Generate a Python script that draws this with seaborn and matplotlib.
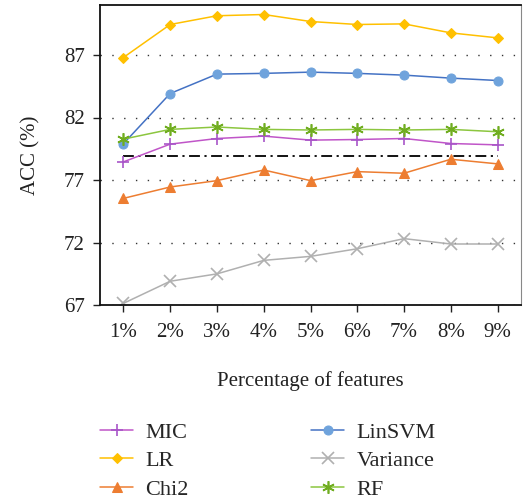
import matplotlib
matplotlib.use("Agg")
import matplotlib.pyplot as plt
import seaborn as sns
import pandas as pd
import numpy as np

sns.set_theme(style="white")
plt.rcParams['font.family'] = ['Liberation Serif', 'DejaVu Serif']

pct = [1, 2, 3, 4, 5, 6, 7, 8, 9]
xlabels = ["1%", "2%", "3%", "4%", "5%", "6%", "7%", "8%", "9%"]
mic = [78.45, 79.87, 80.32, 80.51, 80.19, 80.24, 80.32, 79.92, 79.81]
lr = [86.8, 89.44, 90.14, 90.24, 89.68, 89.44, 89.49, 88.77, 88.37]
chi2 = [75.53, 76.44, 76.95, 77.80, 76.95, 77.67, 77.54, 78.66, 78.29]
linsvm = [79.9, 83.92, 85.47, 85.53, 85.63, 85.53, 85.39, 85.15, 84.96]
variance = [67.13, 68.9, 69.49, 70.57, 70.89, 71.5, 72.31, 71.88, 71.88]
rf = [80.27, 81.05, 81.24, 81.05, 81.0, 81.05, 81.0, 81.05, 80.86]
baseline = 78.9
yticks = [67, 72, 77, 82, 87]

series = [
    ("MIC", mic, dict(color="#C055C8", marker="+", markersize=8, mew=1.2, mfc="#C055C8", mec="#A855C8")),
    ("LR", lr, dict(color="#FFC000", marker="D", markersize=5, mfc="#FFC000", mec="#FFC000")),
    ("Chi2", chi2, dict(color="#ED7D31", marker="^", markersize=6.5, mfc="#ED7D31", mec="#ED7D31")),
    ("LinSVM", linsvm, dict(color="#4472C4", marker="o", markersize=6.5, mfc="#6FA3DC", mec="#6FA3DC")),
    ("Variance", variance, dict(color="#B0B0B0", marker="x", markersize=8, mew=1.2, mfc="#B0B0B0", mec="#B0B0B0")),
    ("RF", rf, dict(color="#8CC63F", marker=(6, 2, 0), markersize=9, mew=1.2, mfc="#70AD20", mec="#70AD20")),
]

fig = plt.figure(figsize=(5.24, 5.0), dpi=100)
ax = fig.add_axes([100/524, 1-305/500, 421/524, 300/500])

for y in yticks:
    ax.axhline(y, color="#333333", linestyle=(0, (1, 7.5)), linewidth=1.0, zorder=0)

handles = []
for name, vals, kw in series:
    df = pd.DataFrame({"x": pct, "y": vals})
    sns.lineplot(data=df, x="x", y="y", ax=ax, linewidth=1.1, label=name, legend=False, **kw)
    handles.append(ax.lines[-1])

ax.plot([pct[0], pct[-1]], [baseline, baseline], color="black", linestyle=(0, (6, 2.5, 1.2, 2.5)), linewidth=1.3, zorder=1)

ax.set_xlim(0.5, 9.5)
ax.set_ylim(67, 91)
ax.set_xticks(pct)
ax.set_xticklabels(xlabels)
ax.set_yticks(yticks)
ax.tick_params(axis="both", labelsize=15, colors="#222222", direction="out", length=5, width=1, bottom=True, left=True)
ax.tick_params(axis="x", pad=8)
ax.tick_params(axis="y", pad=6)
ax.set_xlabel("Percentage of features", fontsize=15, labelpad=21, color="#222222")
ax.set_ylabel("ACC (%)", fontsize=15, labelpad=17, color="#222222")

for s in ["left", "bottom", "top"]:
    ax.spines[s].set_color("#111111")
    ax.spines[s].set_linewidth(1.3)
ax.spines["right"].set_color("#888888")
ax.spines["right"].set_linewidth(0.8)

leg = fig.legend(handles=handles, labels=[s[0] for s in series], ncol=2,
                 loc="upper left", bbox_to_anchor=(100/524, 1-422/500),
                 frameon=False, fontsize=16, handlelength=1.5, columnspacing=5.5,
                 labelspacing=0.36, handletextpad=0.55, borderpad=0, borderaxespad=0)

fig.savefig("out.png", dpi=100)
